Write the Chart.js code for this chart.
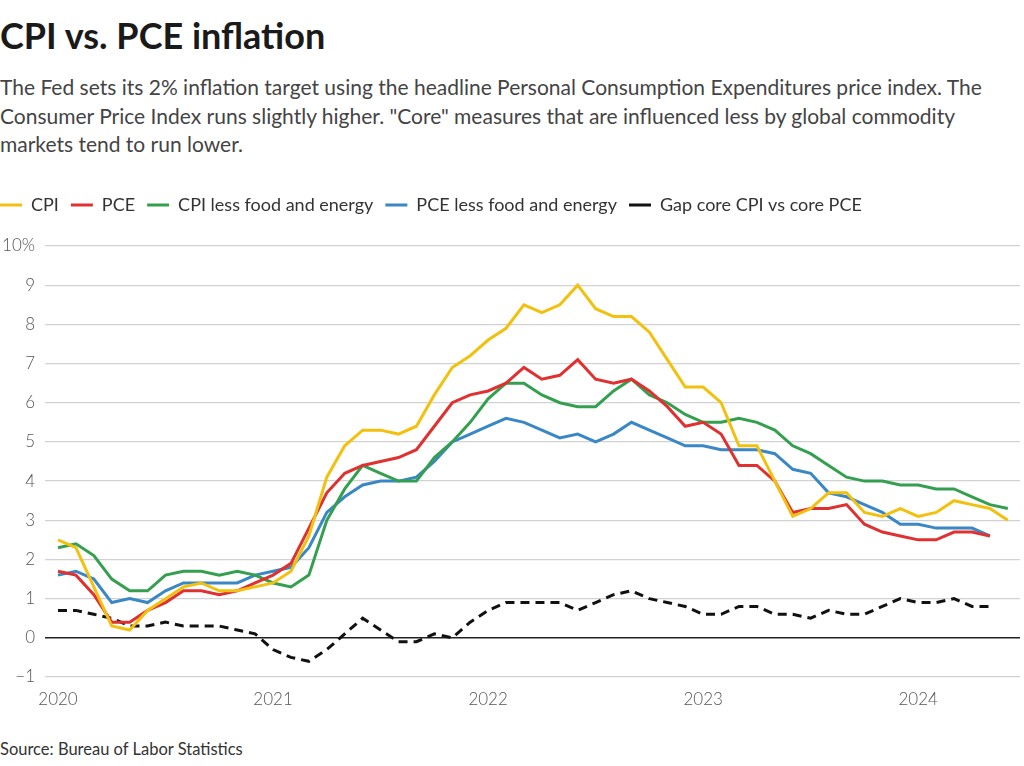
<!DOCTYPE html>
<html>
<head>
<meta charset="utf-8">
<script src="https://cdn.jsdelivr.net/npm/chart.js@4"></script>
<style>
  body { margin: 0; background: #fff; font-family: Lato, sans-serif; width: 1024px; height: 766px; overflow: hidden; position: relative; }
  #title { position: absolute; left: 0; top: 17px; font-size: 36px; font-weight: 700; color: #1a1a1a; line-height: 1; }
  #sub { position: absolute; left: 0; top: 73px; font-size: 21px; line-height: 28.5px; color: #444; }
  #wrap { position: absolute; left: -12px; top: 184px; }
  #source { position: absolute; left: 0; top: 739px; font-size: 16.5px; color: #333; }
</style>
</head>
<body>
<div id="title">CPI vs. PCE inflation</div>
<div id="sub">The Fed sets its 2% inflation target using the headline Personal Consumption Expenditures price index. The<br>Consumer Price Index runs slightly higher. "Core" measures that are influenced less by global commodity<br>markets tend to run lower.</div>
<div id="wrap"><canvas id="myChart" width="1036" height="542"></canvas></div>
<div id="source">Source: Bureau of Labor Statistics</div>
<script>
const ctx = document.getElementById('myChart');

// monthly, Jan 2020 onwards (year-over-year %)
const years = ['2020', '2021', '2022', '2023', '2024'];
const yTicks = [-1, 0, 1, 2, 3, 4, 5, 6, 7, 8, 9, 10];

const cpi = [2.5,2.3,1.3,0.3,0.2,0.7,1.0,1.3,1.4,1.2,1.2,1.3,
  1.4,1.7,2.6,4.1,4.9,5.3,5.3,5.2,5.4,6.2,6.9,7.2,
  7.6,7.9,8.5,8.3,8.5,9.0,8.4,8.2,8.2,7.8,7.1,6.4,
  6.4,6.0,4.9,4.9,4.0,3.1,3.3,3.7,3.7,3.2,3.1,3.3,
  3.1,3.2,3.5,3.4,3.3,3.0];
const pce = [1.7,1.6,1.1,0.4,0.4,0.7,0.9,1.2,1.2,1.1,1.2,1.4,
  1.6,1.9,2.8,3.7,4.2,4.4,4.5,4.6,4.8,5.4,6.0,6.2,
  6.3,6.5,6.9,6.6,6.7,7.1,6.6,6.5,6.6,6.3,5.9,5.4,
  5.5,5.2,4.4,4.4,4.0,3.2,3.3,3.3,3.4,2.9,2.7,2.6,
  2.5,2.5,2.7,2.7,2.6];
const cpiCore = [2.3,2.4,2.1,1.5,1.2,1.2,1.6,1.7,1.7,1.6,1.7,1.6,
  1.4,1.3,1.6,3.0,3.8,4.4,4.2,4.0,4.0,4.6,5.0,5.5,
  6.1,6.5,6.5,6.2,6.0,5.9,5.9,6.3,6.6,6.2,6.0,5.7,
  5.5,5.5,5.6,5.5,5.3,4.9,4.7,4.4,4.1,4.0,4.0,3.9,
  3.9,3.8,3.8,3.6,3.4,3.3];
const pceCore = [1.6,1.7,1.5,0.9,1.0,0.9,1.2,1.4,1.4,1.4,1.4,1.6,
  1.7,1.8,2.3,3.2,3.6,3.9,4.0,4.0,4.1,4.5,5.0,5.2,
  5.4,5.6,5.5,5.3,5.1,5.2,5.0,5.2,5.5,5.3,5.1,4.9,
  4.9,4.8,4.8,4.8,4.7,4.3,4.2,3.7,3.6,3.4,3.2,2.9,
  2.9,2.8,2.8,2.8,2.6];
const gap = [0.7,0.7,0.6,0.5,0.3,0.3,0.4,0.3,0.3,0.3,0.2,0.1,
  -0.3,-0.5,-0.6,-0.3,0.1,0.5,0.2,-0.1,-0.1,0.1,0.0,0.4,
  0.7,0.9,0.9,0.9,0.9,0.7,0.9,1.1,1.2,1.0,0.9,0.8,
  0.6,0.6,0.8,0.8,0.6,0.6,0.5,0.7,0.6,0.6,0.8,1.0,
  0.9,0.9,1.0,0.8,0.8];

const toPts = arr => arr.map((v, i) => ({ x: i, y: v }));

function line(label, arr, color, dash) {
  return {
    label: label,
    data: toPts(arr),
    borderColor: color,
    backgroundColor: color,
    borderWidth: 3,
    borderDash: dash || [],
    pointRadius: 0,
    tension: 0
  };
}

// fixed legend height so plot top lands where it should
const legendHeight = {
  id: 'legendHeight',
  beforeInit(chart) {
    const fit = chart.legend.fit;
    chart.legend.fit = function () {
      fit.bind(chart.legend)();
      this.height = 62;
    };
  }
};

new Chart(ctx, {
  type: 'line',
  data: {
    datasets: [
      line('CPI', cpi, '#f2c10f'),
      line('PCE', pce, '#e03131'),
      line('CPI less food and energy', cpiCore, '#34a04f'),
      line('PCE less food and energy', pceCore, '#3a87c6'),
      line('Gap core CPI vs core PCE', gap, '#111111', [9, 6])
    ]
  },
  plugins: [legendHeight],
  options: {
    responsive: false,
    animation: false,
    devicePixelRatio: 1,
    layout: { padding: { right: 4, left: 0, top: 0, bottom: 0 } },
    plugins: {
      legend: {
        position: 'top',
        align: 'start',
        labels: {
          usePointStyle: true,
          pointStyle: 'line',
          pointStyleWidth: 22,
          boxHeight: 3,
          padding: 12,
          color: '#333',
          font: { family: 'Lato', size: 18 }
        }
      },
      tooltip: { enabled: false }
    },
    scales: {
      x: {
        type: 'linear',
        min: -0.725,
        max: 53.68,
        afterBuildTicks: s => { s.ticks = years.map((y, i) => ({ value: i * 12 })); },
        afterFit: s => { s.height = 49; },
        ticks: {
          callback: (v) => years[v / 12],
          padding: 12,
          color: '#555',
          maxRotation: 0,
          font: { family: 'Lato', size: 17, weight: 300 }
        },
        grid: { display: false, drawTicks: false },
        border: { display: false }
      },
      y: {
        min: -1,
        max: 10,
        afterBuildTicks: s => { s.ticks = yTicks.map(v => ({ value: v })); },
        afterFit: s => { s.width = 57; },
        ticks: {
          callback: v => v === 10 ? '10%' : (v < 0 ? '\u2212' + Math.abs(v) : v),
          padding: 10,
          color: '#555',
          font: { family: 'Lato', size: 17, weight: 300 }
        },
        grid: {
          drawTicks: false,
          color: c => c.tick.value === 0 ? '#222' : '#d2d2d2',
          lineWidth: c => c.tick.value === 0 ? 1.5 : 1.3
        },
        border: { display: false }
      }
    }
  }
});
</script>
</body>
</html>
